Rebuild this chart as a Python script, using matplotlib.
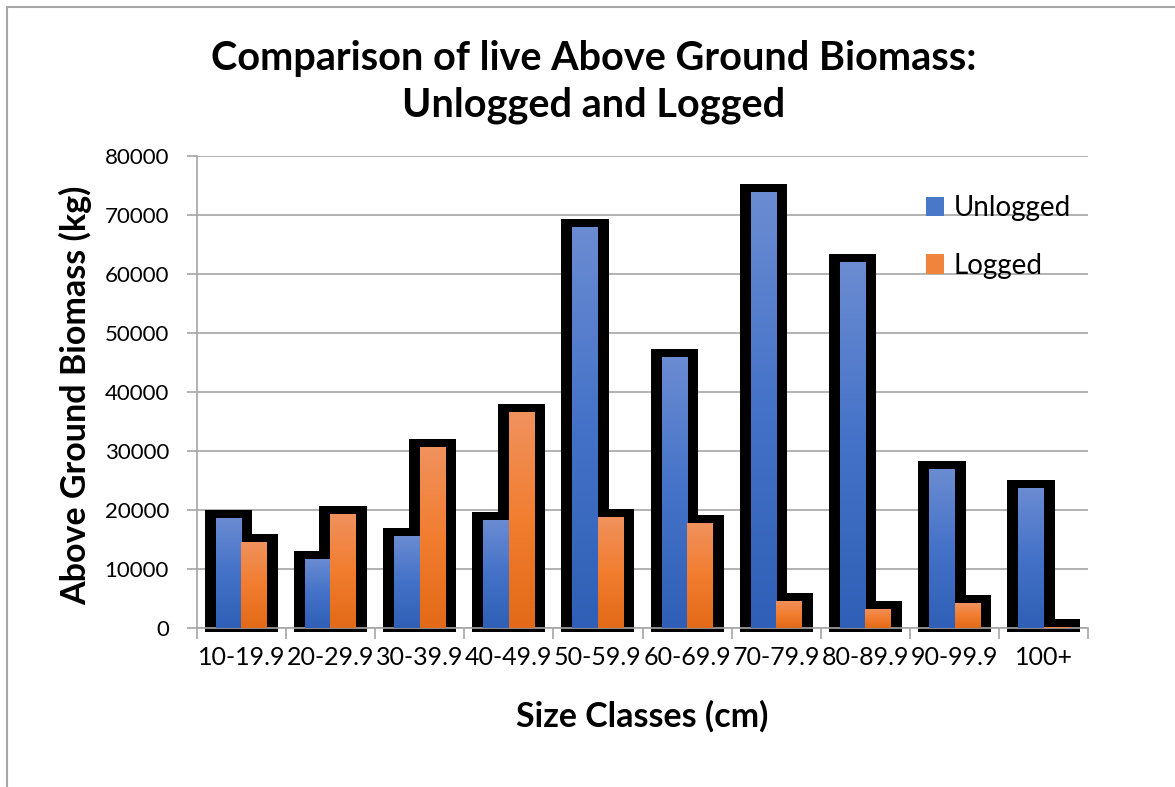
import numpy as np
import matplotlib
matplotlib.use("Agg")
import matplotlib.pyplot as plt
from matplotlib.colors import LinearSegmentedColormap
from matplotlib.patches import Patch, Rectangle
from matplotlib.lines import Line2D

# ---------------- data ----------------
categories = ["10-19.9", "20-29.9", "30-39.9", "40-49.9", "50-59.9",
              "60-69.9", "70-79.9", "80-89.9", "90-99.9", "100+"]
unlogged = [18700, 11800, 15600, 18400, 67900, 46000, 73900, 62000, 26900, 23700]
logged = [14600, 19400, 30700, 36600, 18900, 17900, 4600, 3300, 4200, 150]
series_names = ["Unlogged", "Logged"]
y_ticks = [0, 10000, 20000, 30000, 40000, 50000, 60000, 70000, 80000]

# ---------------- style ----------------
FONT = "Lato"
plt.rcParams["font.family"] = [FONT, "DejaVu Sans"]
W, H, DPI = 1175, 787, 100
fig = plt.figure(figsize=(W / DPI, H / DPI), dpi=DPI)
fig.patch.set_facecolor("white")

ax_left, ax_right = 196.7, 1088.3
ax_top, ax_bottom = 155.7, 628.3
ax = fig.add_axes([ax_left / W, 1 - ax_bottom / H,
                   (ax_right - ax_left) / W, (ax_bottom - ax_top) / H])

blue_cmap = LinearSegmentedColormap.from_list(
    "b", ["#2f5fb6", "#4472c8", "#6b8cd2"])
orange_cmap = LinearSegmentedColormap.from_list(
    "o", ["#e26a18", "#f27d2f", "#f0925e"])

x = np.arange(len(categories))
bw = 1 / 3.5
px_per_cat = (ax_right - ax_left) / len(categories)
px_per_unit = (ax_bottom - ax_top) / 80000
pad_x = 11 / px_per_cat
pad_top = 8 / px_per_unit
pad_bot = 4 / px_per_unit

series = [(unlogged, -bw / 2, blue_cmap, "#4472c4"),
          (logged, bw / 2, orange_cmap, "#ed7d31")]

# black silhouettes first
for vals, off, cm, col in series:
    for xi, v in zip(x, vals):
        r = Rectangle((xi + off - bw / 2 - pad_x, -pad_bot),
                      bw + 2 * pad_x, v + pad_top + pad_bot,
                      facecolor="black", edgecolor="none", zorder=2,
                      clip_on=False)
        ax.add_patch(r)

grad = np.linspace(0, 1, 256).reshape(-1, 1)
for vals, off, cm, col in series:
    bars = ax.bar(x + off, vals, bw, color=col, zorder=3, linewidth=0)
    for b in bars:
        x0, y0 = b.get_x(), b.get_y()
        w, h = b.get_width(), b.get_height()
        if h <= 0:
            continue
        im = ax.imshow(grad, cmap=cm, origin="lower", aspect="auto",
                       extent=(x0, x0 + w, y0, y0 + h), zorder=3.5,
                       interpolation="bilinear")
        im.set_clip_path(b)

ax.set_xlim(-0.5, len(categories) - 0.5)
ax.set_ylim(0, 80000)

# grid & spines
gray = "#a6a6a6"
ax.set_yticks(y_ticks)
ax.set_yticklabels([str(t) for t in y_ticks])
ax.yaxis.grid(True, color=gray, linewidth=1.2, zorder=0)
ax.set_axisbelow(True)
for s in ["top", "right"]:
    ax.spines[s].set_visible(False)
ax.spines["left"].set_color(gray)
ax.spines["bottom"].set_color(gray)
ax.spines["left"].set_linewidth(1.2)
ax.spines["bottom"].set_linewidth(1.2)
ax.tick_params(axis="y", direction="out", length=7, color=gray, width=1.2,
               labelsize=16, pad=13, labelcolor="black")
ax.set_xticks(x)
ax.set_xticklabels(categories)
ax.tick_params(axis="x", which="major", length=0, labelsize=18, pad=13,
               labelcolor="black")
ax.set_xticks(np.arange(-0.5, len(categories), 1.0), minor=True)
ax.tick_params(axis="x", which="minor", direction="out", length=8,
               color=gray, width=1.2)

# labels
fig.text(594 / W, 1 - 82 / H,
         "Comparison of live Above Ground Biomass:\nUnlogged and Logged",
         ha="center", va="center", fontsize=28.5, fontweight="bold",
         linespacing=1.32)
fig.text(76 / W, 1 - 395 / H, "Above Ground Biomass (kg)", rotation=90,
         ha="center", va="center", fontsize=24.5, fontweight="bold")
fig.text(642 / W, 1 - 716 / H, "Size Classes (cm)", ha="center",
         va="center", fontsize=24.5, fontweight="bold")

# legend
handles = [Patch(facecolor="#4a78c8", edgecolor="none"),
           Patch(facecolor="#f0843c", edgecolor="none")]
leg = ax.legend(handles, series_names, loc="upper left",
                bbox_to_anchor=((915 - ax_left) / (ax_right - ax_left),
                                (ax_bottom - 184) / (ax_bottom - ax_top)),
                frameon=False, fontsize=20, handlelength=0.65,
                handleheight=0.7, handletextpad=0.35, labelspacing=1.14,
                borderaxespad=0)

# figure border
fig.add_artist(Line2D([7 / W, 7 / W], [0, 1 - 7 / H], color="#a6a6a6",
                      linewidth=1.5, transform=fig.transFigure))
fig.add_artist(Line2D([7 / W, 1], [1 - 7 / H, 1 - 7 / H], color="#a6a6a6",
                      linewidth=1.5, transform=fig.transFigure))

fig.savefig("out.png", dpi=DPI)
